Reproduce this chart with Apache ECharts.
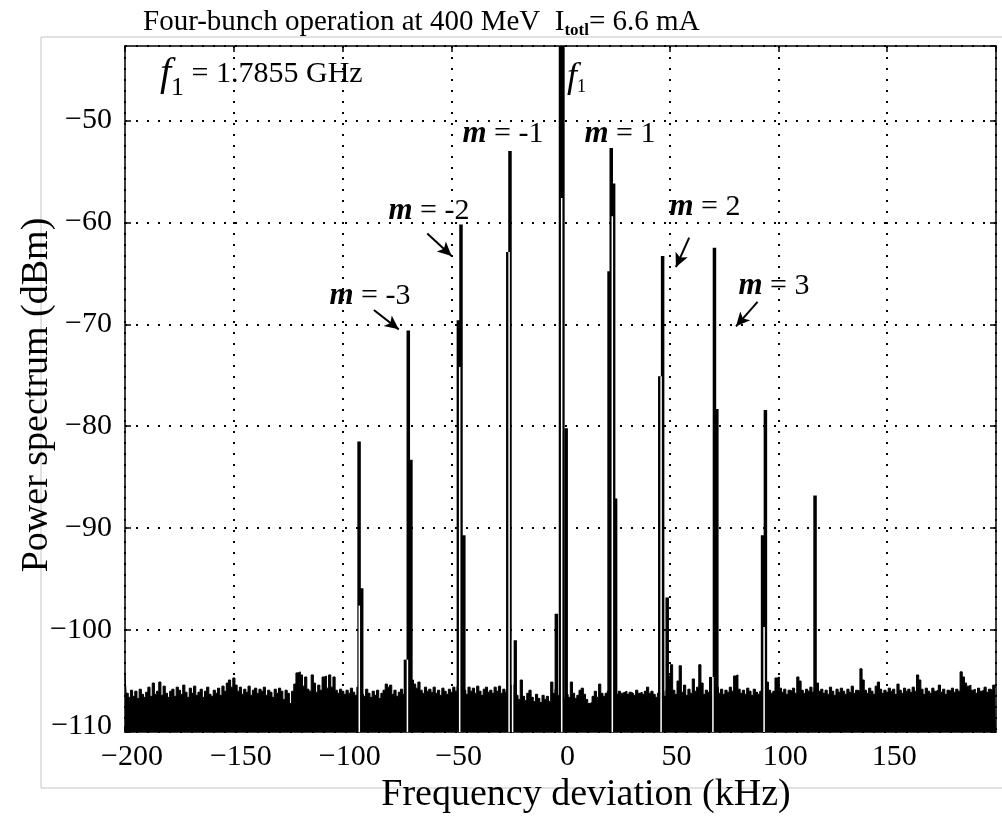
<!DOCTYPE html>
<html>
<head>
<meta charset="utf-8">
<script src="https://cdn.jsdelivr.net/npm/echarts@6/dist/echarts.min.js"></script>
<style>
  html, body { margin: 0; padding: 0; background: #fff; }
  #chart { width: 1002px; height: 819px; }
</style>
</head>
<body>
<div id="chart"></div>
<script>
// noise floor of the trace, one reading per kHz from -200 to 200
const noiseStart = -200;
const noiseDb = [
  -104.4, -106.2, -106.6, -105.9, -106.5, -106.0, -106.7, -105.8, -106.3, -106.6,
  -106.1, -105.6, -106.5, -105.2, -106.3, -106.0, -105.1, -106.4, -105.5, -106.2,
  -106.6, -106.0, -105.8, -106.5, -105.6, -105.9, -106.3, -105.4, -106.1, -106.6,
  -105.7, -106.2, -105.5, -106.4, -106.1, -105.8, -106.6, -106.0, -105.6, -106.3,
  -106.5, -105.9, -106.2, -105.7, -106.4, -105.5, -106.0, -105.2, -104.9, -105.6,
  -104.7, -105.4, -106.0, -105.6, -106.3, -105.8, -106.1, -105.5, -106.4, -105.9,
  -105.7, -106.2, -105.8, -106.0, -105.6, -106.4, -105.9, -106.1, -106.6, -105.8,
  -106.2, -105.7, -106.0, -106.8, -105.9, -106.2, -107.2, -106.0, -105.3, -104.2,
  -104.1, -104.4, -105.5, -104.6, -105.8, -106.0, -104.4, -105.2, -106.1, -105.4,
  -105.9, -104.6, -104.5, -105.7, -104.4, -105.6, -104.6, -105.9, -106.2, -105.8,
  -106.0, -106.3, -105.9, -106.2, -105.7, -106.1, -106.4, -105.6, -106.0, -106.3,
  -106.5, -105.8, -106.2, -106.6, -106.0, -106.4, -105.9, -106.7, -106.2, -105.9,
  -105.3, -105.6, -105.4, -106.3, -105.9, -106.5, -106.1, -105.8, -106.3, -105.2,
  -105.0, -105.4, -104.9, -105.3, -105.7, -105.1, -105.9, -106.2, -105.6, -106.0,
  -105.8, -106.1, -105.6, -106.2, -105.9, -106.4, -105.7, -106.0, -106.3, -105.8,
  -106.1, -105.6, -106.0, -105.5, -106.2, -105.7, -105.9, -106.3, -105.6, -106.0,
  -105.7, -106.2, -105.5, -106.0, -106.4, -105.8, -105.6, -106.1, -105.9, -106.2,
  -105.6, -106.0, -105.5, -106.2, -105.8, -106.1, -105.7, -106.3, -105.4, -106.0,
  -106.4, -106.8, -104.9, -106.5, -106.9, -106.2, -105.9, -106.6, -107.0, -106.3,
  -106.7, -107.1, -106.4, -106.8, -106.5, -107.0, -105.1, -106.2, -105.8, -106.4,
  -106.0, -106.5, -106.8, -106.3, -106.6, -105.1, -106.2, -106.7, -106.4, -105.9,
  -105.7, -106.3, -106.8, -107.2, -107.1, -106.5, -106.0, -106.6, -105.3, -106.2,
  -106.5, -106.2, -106.0, -106.4, -106.2, -106.1, -106.3, -106.0, -106.2, -106.1,
  -106.0, -106.3, -106.1, -106.2, -106.4, -105.9, -106.2, -106.1, -106.3, -106.0,
  -105.6, -106.2, -106.0, -106.3, -106.6, -106.2, -106.4, -106.0, -106.5, -105.8,
  -104.5, -103.4, -105.9, -106.3, -105.0, -103.5, -106.1, -105.4, -106.4, -105.8,
  -106.2, -104.8, -106.0, -105.6, -103.4, -105.2, -106.3, -105.9, -106.1, -106.2,
  -106.4, -106.0, -105.6, -106.2, -105.8, -106.3, -105.9, -106.1, -105.6, -106.0,
  -104.5, -104.4, -105.8, -106.2, -105.9, -106.3, -105.7, -106.0, -106.4, -105.8,
  -106.1, -106.3, -106.0, -106.2, -105.8, -105.1, -105.9, -106.2, -106.0, -104.7,
  -104.6, -105.7, -106.1, -105.8, -106.3, -105.9, -106.0, -105.7, -106.2, -104.6,
  -105.0, -105.9, -106.2, -105.8, -106.0, -105.6, -106.1, -105.7, -105.2, -106.0,
  -105.8, -106.2, -105.9, -106.3, -105.6, -106.0, -106.4, -105.8, -106.1, -105.7,
  -106.0, -106.3, -105.8, -106.1, -105.5, -106.2, -105.9, -106.0, -103.8, -104.9,
  -105.9, -106.2, -105.7, -106.0, -106.3, -105.5, -105.1, -105.8, -106.2, -105.9,
  -106.1, -105.7, -106.0, -105.8, -106.3, -105.3, -105.9, -106.2, -105.7, -106.0,
  -105.8, -106.1, -105.6, -106.0, -104.4, -104.9, -105.8, -106.3, -105.7, -106.0,
  -106.2, -105.7, -106.0, -105.9, -105.4, -106.1, -105.8, -106.3, -105.9, -106.0,
  -105.7, -106.1, -105.8, -106.0, -104.1, -104.6, -105.2, -105.5, -105.4, -105.9,
  -105.8, -106.2, -105.7, -106.0, -105.9, -105.6, -106.1, -105.8, -105.9, -105.4,
  -105.6
];

// spectral lines: carrier f1, sidebands and their shoulders (kHz, dBm)
const lineFreq = [0.0, 1.1, -1.9, 2.6,
  -92.5, -91.3,
  -69.9, -68.7, -71.2,
  -45.7, -46.9, -44.4,
  -23.2, -24.2, -20.8,
  23.3, 24.4, 22.3, 25.3,
  46.9, 45.6, 49.0,
  70.7, 71.8, 69.0,
  94.1, 92.8,
  116.9];
const lineTop = [-40, -40, -98.4, -80.2,
  -81.5, -95.9,
  -70.6, -83.3, -102.9,
  -60.2, -69.6, -90.7,
  -53.0, -62.9, -101.0,
  -52.7, -56.2, -64.8, -87.1,
  -63.3, -75.1, -96.8,
  -62.5, -78.3, -104.6,
  -78.4, -90.7,
  -86.8];

// white slits where the trace falls back between the up and down strokes
const gapFreq = [0.55, -92.4, -70.3, -46.3, -23.6, -22.0, 23.8, 46.2, 70.0, 93.5];
const gapTop = [-57.6, -97.6, -102.9, -74.2, -62.9, -101.0, -59.4, -75.1, -104.6, -99.7];

const Y_MIN = -110, Y_MAX = -42.7;
const SERIF = "'Liberation Serif', 'Times New Roman', serif";

const noiseData = noiseDb.map((v, i) => [noiseStart + i, v]);
const lineData = lineFreq.map((f, i) => [f, lineTop[i]]);
const gapData = gapFreq.map((f, i) => [f, gapTop[i]]);

function columns(color, w) {
  return function (params, api) {
    const top = api.coord([api.value(0), api.value(1)]);
    const base = api.coord([api.value(0), Y_MIN]);
    const cs = params.coordSys;
    const shape = echarts.graphic.clipRectByRect(
      { x: top[0] - w / 2, y: top[1], width: w, height: base[1] - top[1] },
      { x: cs.x, y: cs.y, width: cs.width, height: cs.height }
    );
    if (!shape) return null;
    return { type: 'rect', shape: shape, style: { fill: color } };
  };
}

const minus = v => String(v).replace('-', '\u2212');
// the bottom y label sits a little above its tick in the original
const yMinus = v => v === Y_MIN ? '{lo|' + minus(v) + '}' : minus(v);
const frame = { show: true, onZero: false, lineStyle: { color: '#000', width: 1.5 } };
const ticks = { show: true, inside: true, length: 6, lineStyle: { color: '#000', width: 1.5 } };
const grid = { show: true, lineStyle: { color: '#000', width: 2, type: [2, 9] } };
const tickFont = { color: '#000', fontFamily: SERIF, fontSize: 30 };

const mLabel = (txt, x, y) => ({
  type: 'text', x: x, y: y, z: 10,
  style: {
    text: txt, align: 'center', verticalAlign: 'middle', fill: '#000',
    fontFamily: SERIF, fontSize: 30,
    rich: { m: { fontFamily: SERIF, fontSize: 31, fontStyle: 'italic', fontWeight: 'bold' } }
  }
});

const chart = echarts.init(document.getElementById('chart'));
chart.setOption({
  animation: false,
  grid: { left: 125, right: 6, top: 46, bottom: 87 },
  xAxis: [
    {
      type: 'value', min: -200, max: 200, interval: 50, position: 'bottom',
      axisLine: frame, axisTick: ticks, splitLine: grid,
      axisLabel: Object.assign({ margin: 10, showMaxLabel: false, padding: [0, 0, 0, 14], formatter: minus }, tickFont)
    },
    {
      type: 'value', min: -200, max: 200, interval: 50, position: 'top',
      axisLine: frame, axisTick: ticks, splitLine: { show: false }, axisLabel: { show: false }
    }
  ],
  yAxis: [
    {
      type: 'value', min: Y_MIN, max: Y_MAX, interval: 10, position: 'left',
      axisLine: frame, axisTick: ticks, splitLine: grid,
      axisLabel: Object.assign({
        margin: 13, showMaxLabel: false, formatter: yMinus,
        rich: { lo: { fontFamily: SERIF, fontSize: 30, color: '#000', padding: [0, 0, 12, 0] } }
      }, tickFont)
    },
    {
      type: 'value', min: Y_MIN, max: Y_MAX, interval: 10, position: 'right',
      axisLine: frame, axisTick: ticks, splitLine: { show: false }, axisLabel: { show: false }
    }
  ],
  series: [
    {
      type: 'line', data: noiseData, step: 'middle', symbol: 'none', z: 3,
      lineStyle: { color: '#000', width: 1 },
      areaStyle: { color: '#000', opacity: 1, origin: 'start' },
      markLine: {
        silent: true, animation: false,
        symbol: ['none', 'arrow'], symbolSize: [10, 14],
        lineStyle: { color: '#000', width: 2, type: 'solid' },
        label: { show: false },
        data: [
          [{ coord: [-85.7, -68.6] }, { coord: [-74.3, -70.5] }],
          [{ coord: [-61.2, -61.1] }, { coord: [-50.0, -63.3] }],
          [{ coord: [59.1, -61.5] }, { coord: [53.0, -64.4] }],
          [{ coord: [90.5, -67.8] }, { coord: [80.6, -70.2] }]
        ]
      }
    },
    { type: 'custom', data: lineData, renderItem: columns('#000', 3.5), z: 4, encode: { x: 0, y: 1 } },
    { type: 'custom', data: gapData, renderItem: columns('#fff', 1.5), z: 5, encode: { x: 0, y: 1 } }
  ],
  graphic: [
    {
      type: 'rect', z: -1, silent: true,
      shape: { x: 41, y: 37, width: 1000, height: 751 },
      style: { fill: 'none', stroke: '#c4c4c4', lineWidth: 1 }
    },
    {
      type: 'text', x: 143, y: 22,
      style: {
        text: 'Four-bunch operation at 400 MeV  I{s|totl}= 6.6 mA',
        fill: '#000', fontFamily: SERIF, fontSize: 29, align: 'left', verticalAlign: 'middle',
        rich: { s: { fontFamily: SERIF, fontSize: 17, fontWeight: 'bold', padding: [17, 0, 0, 0] } }
      }
    },
    {
      type: 'text', x: 160, y: 74, z: 10,
      style: {
        text: '{f|f}{s|1} = 1.7855 GHz',
        fill: '#000', fontFamily: SERIF, fontSize: 30, align: 'left', verticalAlign: 'middle',
        rich: {
          f: { fontFamily: SERIF, fontSize: 40, fontStyle: 'italic' },
          s: { fontFamily: SERIF, fontSize: 26, padding: [28, 0, 0, 0] }
        }
      }
    },
    {
      type: 'text', x: 567, y: 78, z: 10,
      style: {
        text: '{f|f}{s|1}',
        fill: '#000', fontFamily: SERIF, fontSize: 30, align: 'left', verticalAlign: 'middle',
        rich: {
          f: { fontFamily: SERIF, fontSize: 36, fontStyle: 'italic' },
          s: { fontFamily: SERIF, fontSize: 18, padding: [18, 0, 0, 0] }
        }
      }
    },
    mLabel('{m|m} = -1', 503, 134),
    mLabel('{m|m} = 1', 620, 134),
    mLabel('{m|m} = -2', 429, 211),
    mLabel('{m|m} = -3', 370, 296),
    mLabel('{m|m} = 2', 705, 207),
    mLabel('{m|m} = 3', 774, 286),
    {
      type: 'text', x: 586, y: 795,
      style: {
        text: 'Frequency deviation (kHz)', fill: '#000', fontFamily: SERIF, fontSize: 38,
        align: 'center', verticalAlign: 'middle'
      }
    },
    {
      type: 'text', x: 37, y: 395, rotation: Math.PI / 2,
      style: {
        text: 'Power spectrum (dBm)', fill: '#000', fontFamily: SERIF, fontSize: 38,
        align: 'center', verticalAlign: 'middle'
      }
    }
  ]
});
</script>
</body>
</html>
